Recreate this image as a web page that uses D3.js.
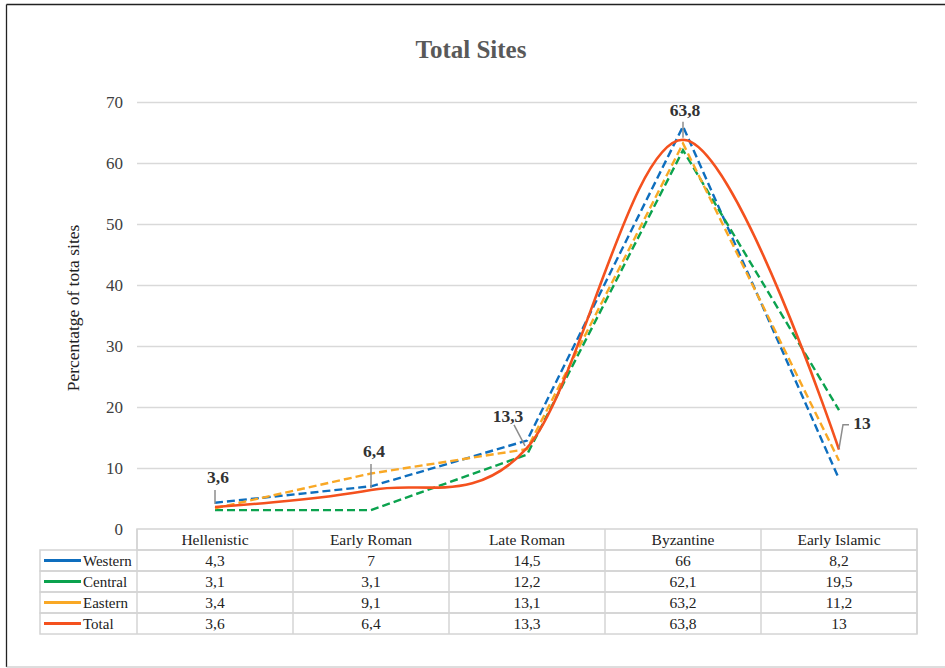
<!DOCTYPE html>
<html><head><meta charset="utf-8">
<script src="https://cdn.jsdelivr.net/npm/d3@7"></script>
<style>body{margin:0;background:#fff}svg{display:block;font-family:"Liberation Serif","DejaVu Serif",serif}</style>
</head><body><svg id="c" width="945" height="668"></svg>
<script>
const categories = ["Hellenistic","Early Roman","Late Roman","Byzantine","Early Islamic"];
const seriesNames = ["Western","Central","Eastern","Total"];
const western = [4.3,7,14.5,66,8.2];
const central = [3.1,3.1,12.2,62.1,19.5];
const eastern = [3.4,9.1,13.1,63.2,11.2];
const total = [3.6,6.4,13.3,63.8,13];
const yTicks = [0,10,20,30,40,50,60,70];
const colors = ["#0E6EBE","#0BA24E","#F9A825","#F4511E"];
const series = [western, central, eastern, total];
const fmt = v => String(v).replace(".", ",");

const svg = d3.select("#c");
const L = 137, R = 917, T = 102, B = 529;
const x = d3.scaleBand().domain(categories).range([L, R]);
const cx = c => x(c) + x.bandwidth()/2;
const y = d3.scaleLinear().domain([0,70]).range([B, T]);

// outer border
svg.append("line").attr("x1",6.5).attr("x2",945).attr("y1",4.5).attr("y2",4.5).attr("stroke","#222").attr("stroke-width",1.3);
svg.append("line").attr("x1",6.5).attr("x2",6.5).attr("y1",4.5).attr("y2",667).attr("stroke","#222").attr("stroke-width",1.3);
svg.append("line").attr("x1",6.5).attr("x2",945).attr("y1",667).attr("y2",667).attr("stroke","#bbb").attr("stroke-width",1);

// title
svg.append("text").attr("x",471).attr("y",58).attr("text-anchor","middle")
  .attr("font-size",25).attr("font-weight","bold").attr("fill","#595959").text("Total Sites");

// grid + y axis
const yAxis = d3.axisLeft(y).tickValues(yTicks).tickSize(0).tickPadding(14);
const ga = svg.append("g").attr("transform",`translate(${L},0)`).call(yAxis);
ga.select(".domain").remove();
ga.selectAll("text").attr("font-size",17).attr("fill","#404040").attr("font-family","Liberation Serif, serif");
svg.append("g").selectAll("line").data(yTicks.filter(t=>t>0)).join("line")
  .attr("x1",L).attr("x2",R).attr("y1",d=>y(d)+0.5).attr("y2",d=>y(d)+0.5)
  .attr("stroke","#d9d9d9").attr("stroke-width",1.3);

svg.append("text").attr("transform",`translate(79,308) rotate(-90)`).attr("text-anchor","middle")
  .attr("font-size",17.5).attr("fill","#222").text("Percentatge of tota sites");

// lines
const lineLin = d3.line().x((d,i)=>cx(categories[i])).y(d=>y(d));
const lineSmooth = d3.line().x((d,i)=>cx(categories[i])).y(d=>y(d)).curve(d3.curveCatmullRom.alpha(0));
series.forEach((s,k)=>{
  svg.append("path").datum(s).attr("fill","none").attr("stroke",colors[k])
    .attr("stroke-width", k===3?2.6:2.4)
    .attr("stroke-dasharray", k===3?null:"8,4")
    .attr("d", k===3?lineSmooth(s):lineLin(s));
});

// data labels for Total
const lab = svg.append("g");
const lblOff = [
  {dx:3, dy:-24, l:[[0,-3],[0,-17]]},
  {dx:3, dy:-33, l:[[0,-2],[0,-26]]},
  {dx:-19, dy:-26, l:[[-2,-2],[-13,-23]]},
  {dx:2, dy:-24, l:[[0,-2],[0,-18]]},
  {dx:23, dy:-21, l:[[0,-1],[4,-25],[10,-25]]}
];
total.forEach((v,i)=>{
  const px = cx(categories[i]), py = y(v), o = lblOff[i];
  lab.append("path").attr("d", d3.line()(o.l.map(p=>[px+p[0],py+p[1]])))
    .attr("fill","none").attr("stroke","#8c8c8c").attr("stroke-width",1.5);
  lab.append("text").attr("x",px+o.dx).attr("y",py+o.dy).attr("text-anchor","middle")
    .attr("font-size",17.5).attr("font-weight","bold").attr("fill","#333").text(fmt(v));
});

// data table
const rowH = 21, tTop = B, legL = 40;
const tg = svg.append("g");
const bc = "#d4d4d4";
tg.append("rect").attr("x",L).attr("y",tTop).attr("width",R-L).attr("height",rowH).attr("fill","none").attr("stroke",bc).attr("stroke-width",1.5);
categories.forEach(c=>{
  tg.append("text").attr("x",cx(c)).attr("y",tTop+rowH/2+5).attr("text-anchor","middle")
    .attr("font-size",15.5).attr("fill","#222").text(c);
});
series.forEach((s,k)=>{
  const ry = tTop + rowH*(k+1);
  tg.append("rect").attr("x",legL).attr("y",ry).attr("width",R-legL).attr("height",rowH).attr("fill","none").attr("stroke",bc).attr("stroke-width",1.5);
  tg.append("line").attr("x1",44).attr("x2",81).attr("y1",ry+rowH/2).attr("y2",ry+rowH/2).attr("stroke",colors[k]).attr("stroke-width",3);
  tg.append("text").attr("x",83).attr("y",ry+rowH/2+5).attr("font-size",15).attr("fill","#222").text(seriesNames[k]);
  s.forEach((v,i)=>{
    tg.append("text").attr("x",cx(categories[i])).attr("y",ry+rowH/2+5).attr("text-anchor","middle")
      .attr("font-size",15.5).attr("fill","#222").text(fmt(v));
  });
});
d3.range(categories.length+1).forEach(i=>{
  const xx = L + i*x.bandwidth();
  tg.append("line").attr("x1",xx).attr("x2",xx).attr("y1",tTop).attr("y2",tTop+rowH*5).attr("stroke",bc).attr("stroke-width",1.5);
});
</script></body></html>
